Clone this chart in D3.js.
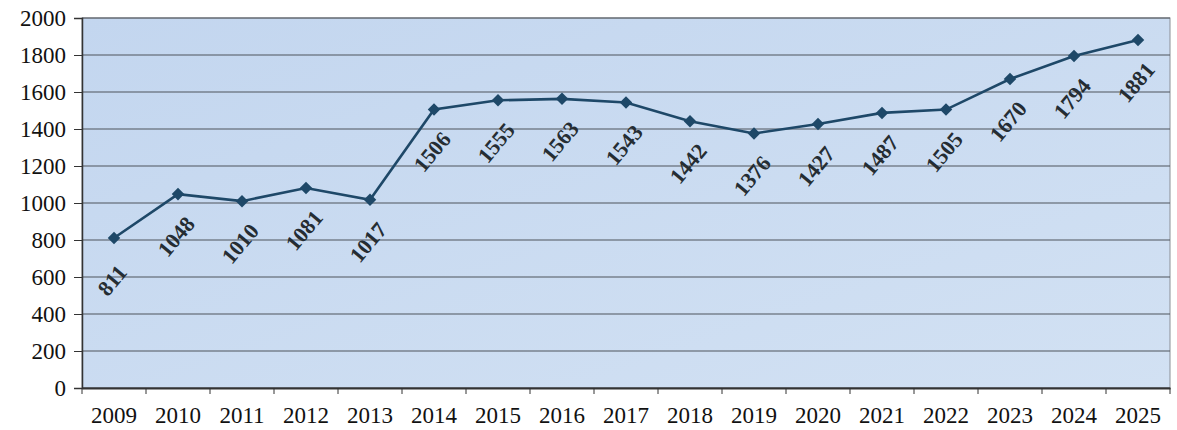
<!DOCTYPE html>
<html><head><meta charset="utf-8">
<script src="https://cdn.jsdelivr.net/npm/d3@7/dist/d3.min.js"></script>
<style>body{margin:0;background:#fff;}svg{display:block;}</style>
</head><body>
<svg id="c" width="1177" height="430"></svg>
<script>
const years = ["2009","2010","2011","2012","2013","2014","2015","2016","2017","2018","2019","2020","2021","2022","2023","2024","2025"];
const values = [811,1048,1010,1081,1017,1506,1555,1563,1543,1442,1376,1427,1487,1505,1670,1794,1881];
const yTicks = [0,200,400,600,800,1000,1200,1400,1600,1800,2000];

const svg = d3.select("#c");
const L = 82, R = 1170, T = 18, B = 388;
const x = d3.scaleBand().domain(years).range([L, R]);
const y = d3.scaleLinear().domain([0, 2000]).range([B, T]);

const defs = svg.append("defs");
const g = defs.append("linearGradient").attr("id","bg").attr("x1",0).attr("y1",0).attr("x2",1).attr("y2",1);
g.append("stop").attr("offset","0%").attr("stop-color","#c3d6ef");
g.append("stop").attr("offset","100%").attr("stop-color","#d2e1f3");

svg.append("rect").attr("x",L).attr("y",T).attr("width",R-L).attr("height",B-T).attr("fill","url(#bg)")
  .attr("stroke","#8a8f96").attr("stroke-width",1);

// gridlines
svg.append("g").selectAll("line").data(yTicks).join("line")
  .attr("x1",L).attr("x2",R).attr("y1",d=>y(d)).attr("y2",d=>y(d))
  .attr("stroke","#4f555c").attr("stroke-width",1.2);

// y axis
const ya = svg.append("g").attr("transform",`translate(${L},0)`)
  .call(d3.axisLeft(y).tickValues(yTicks).tickSize(8).tickPadding(8).tickFormat(d3.format("d")));
ya.select(".domain").attr("stroke","#333").attr("stroke-width",1.5);
ya.selectAll(".tick line").attr("stroke","#333");
ya.selectAll("text").attr("font-family","'Liberation Serif', serif").attr("font-size",23).attr("fill","#111");

// x axis
const xa = svg.append("g").attr("transform",`translate(0,${B})`)
  .call(d3.axisBottom(x).tickSize(0).tickPadding(19));
xa.select(".domain").attr("stroke","#333").attr("stroke-width",2);
xa.selectAll("text").attr("font-family","'Liberation Serif', serif").attr("font-size",23).attr("fill","#111");
// boundary ticks
svg.append("g").selectAll("line").data(years.concat(["end"])).join("line")
  .attr("x1",(d,i)=>L + i*x.step()).attr("x2",(d,i)=>L + i*x.step())
  .attr("y1",B).attr("y2",B+6).attr("stroke","#333").attr("stroke-width",1);

// line
const cx = (d,i)=>x(years[i]) + x.bandwidth()/2;
svg.append("path").datum(values)
  .attr("d", d3.line().x(cx).y(d=>y(d)))
  .attr("fill","none").attr("stroke","#1e4868").attr("stroke-width",2.6);

// markers
svg.append("g").selectAll("path").data(values).join("path")
  .attr("transform",(d,i)=>`translate(${cx(d,i)},${y(d)})`)
  .attr("d", d3.symbol(d3.symbolDiamond2 || d3.symbolDiamond, 100))
  .attr("fill","#1e4868");

// labels
svg.append("g").selectAll("text").data(values).join("text")
  .attr("transform",(d,i)=>`translate(${cx(d,i)},${y(d)+44}) rotate(-50)`)
  .attr("text-anchor","middle").attr("dominant-baseline","middle")
  .attr("font-family","'Liberation Serif', serif").attr("font-size",22).attr("font-weight","bold")
  .attr("fill","#252d33").text(d=>d);
</script>
</body></html>
